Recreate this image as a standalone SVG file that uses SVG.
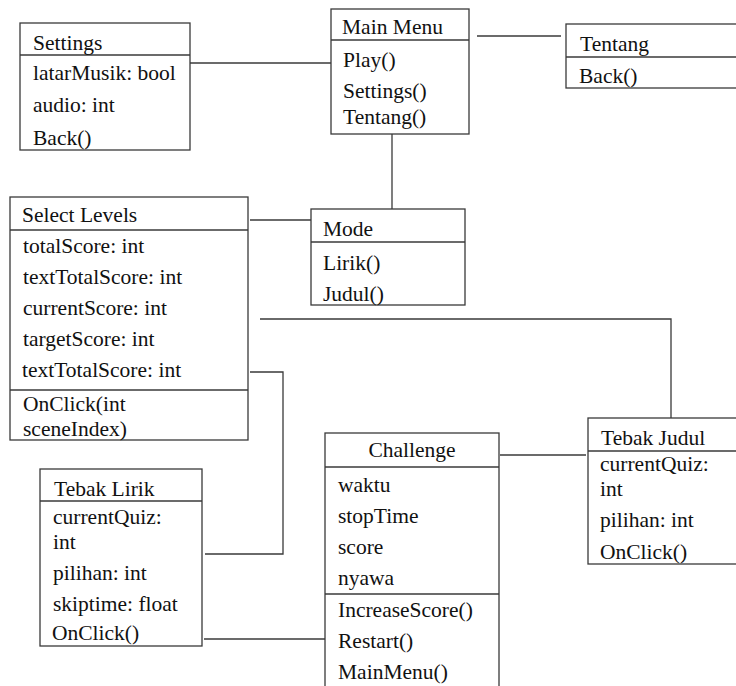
<svg xmlns="http://www.w3.org/2000/svg" width="736" height="686" viewBox="0 0 736 686">
<style>
.box{fill:#fff;stroke:#3a3a3a;stroke-width:1.3}
.div{stroke:#3a3a3a;stroke-width:1.3}
.con{fill:none;stroke:#3a3a3a;stroke-width:1.3}
text{font-family:"Liberation Serif","Times New Roman",serif;font-size:21.5px;fill:#111}
</style>
<rect width="736" height="686" fill="#fff"/>
<g id="connectors">
<line class="con" x1="189" y1="63" x2="332" y2="63"/>
<line class="con" x1="477" y1="36" x2="561" y2="36"/>
<line class="con" x1="392" y1="134" x2="392" y2="209"/>
<line class="con" x1="250" y1="220" x2="311" y2="220"/>
<polyline class="con" points="260,319 671,319 671,418"/>
<line class="con" x1="500" y1="455" x2="586" y2="455"/>
<polyline class="con" points="250,372 283,372 283,554 205,554"/>
<line class="con" x1="204" y1="639" x2="325" y2="639"/>
</g>
<g id="settings">
<rect class="box" x="20" y="23" width="170" height="127"/>
<line class="div" x1="20" y1="55" x2="190" y2="55"/>
<text x="33" y="50">Settings</text>
<text x="33" y="80">latarMusik: bool</text>
<text x="33" y="112">audio: int</text>
<text x="33" y="145">Back()</text>
</g>
<g id="mainmenu">
<rect class="box" x="331" y="9" width="138" height="125"/>
<line class="div" x1="331" y1="40" x2="469" y2="40"/>
<text x="342" y="34">Main Menu</text>
<text x="343" y="67">Play()</text>
<text x="343" y="98">Settings()</text>
<text x="343" y="124">Tentang()</text>
</g>
<g id="tentang">
<rect class="box" x="566" y="24" width="180" height="64"/>
<line class="div" x1="566" y1="57" x2="736" y2="57"/>
<text x="580" y="51">Tentang</text>
<text x="579" y="83">Back()</text>
</g>
<g id="selectlevels">
<rect class="box" x="10" y="197" width="238" height="243"/>
<line class="div" x1="10" y1="230" x2="248" y2="230"/>
<line class="div" x1="10" y1="390" x2="248" y2="390"/>
<text x="22" y="222">Select Levels</text>
<text x="23" y="253">totalScore: int</text>
<text x="23" y="284">textTotalScore: int</text>
<text x="23" y="315">currentScore: int</text>
<text x="23" y="346">targetScore: int</text>
<text x="22" y="377">textTotalScore: int</text>
<text x="23" y="411">OnClick(int</text>
<text x="23" y="436">sceneIndex)</text>
</g>
<g id="mode">
<rect class="box" x="311" y="209" width="154" height="96"/>
<line class="div" x1="311" y1="242" x2="465" y2="242"/>
<text x="323" y="236">Mode</text>
<text x="323" y="270">Lirik()</text>
<text x="323" y="301">Judul()</text>
</g>
<g id="tebakjudul">
<rect class="box" x="588" y="418" width="160" height="146"/>
<line class="div" x1="588" y1="451" x2="736" y2="451"/>
<text x="601" y="445">Tebak Judul</text>
<text x="600" y="471">currentQuiz:</text>
<text x="600" y="496">int</text>
<text x="600" y="527">pilihan: int</text>
<text x="600" y="559">OnClick()</text>
</g>
<g id="challenge">
<rect class="box" x="325" y="433" width="174" height="270"/>
<line class="div" x1="325" y1="467" x2="499" y2="467"/>
<line class="div" x1="325" y1="594" x2="499" y2="594"/>
<text x="412" y="457" text-anchor="middle">Challenge</text>
<text x="338" y="492">waktu</text>
<text x="338" y="523">stopTime</text>
<text x="338" y="554">score</text>
<text x="338" y="585">nyawa</text>
<text x="338" y="617">IncreaseScore()</text>
<text x="338" y="648">Restart()</text>
<text x="338" y="679">MainMenu()</text>
</g>
<g id="tebaklirik">
<rect class="box" x="40" y="469" width="162" height="177"/>
<line class="div" x1="40" y1="501" x2="202" y2="501"/>
<text x="54" y="496">Tebak Lirik</text>
<text x="53" y="524">currentQuiz:</text>
<text x="53" y="549">int</text>
<text x="53" y="580">pilihan: int</text>
<text x="53" y="611">skiptime: float</text>
<text x="52" y="640">OnClick()</text>
</g>
</svg>
